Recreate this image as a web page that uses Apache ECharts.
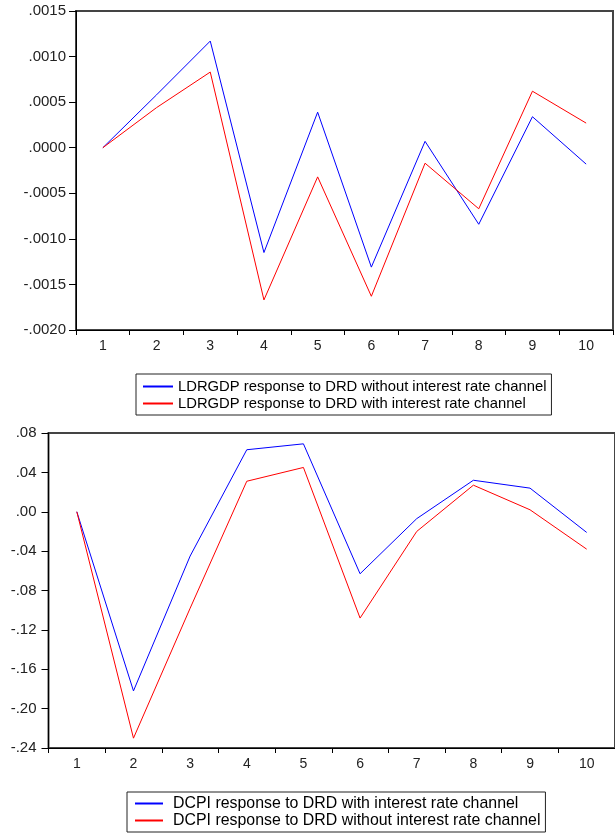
<!DOCTYPE html>
<html>
<head>
<meta charset="utf-8">
<script src="https://cdn.jsdelivr.net/npm/echarts@6/dist/echarts.min.js"></script>
<style>
html,body{margin:0;padding:0;background:#fff;}
#c{width:615px;height:836px;}
</style>
</head>
<body>
<div id="c"></div>
<script>
// Data
const periods = ['1','2','3','4','5','6','7','8','9','10'];
const gdpWithout = [0, 0.00058, 0.00117, -0.00115, 0.00039, -0.00131, 0.00007, -0.00084, 0.00034, -0.00018];
const gdpWith    = [0, 0.00044, 0.00083, -0.00167, -0.00032, -0.00163, -0.00017, -0.00067, 0.00062, 0.00027];
const cpiWith    = [0, -0.182, -0.045, 0.063, 0.069, -0.063, -0.007, 0.032, 0.024, -0.021];
const cpiWithout = [0, -0.230, -0.098, 0.031, 0.045, -0.108, -0.020, 0.027, 0.002, -0.038];
const gdpNames = ['LDRGDP response to DRD without interest rate channel', 'LDRGDP response to DRD with interest rate channel'];
const cpiNames = ['DCPI response to DRD with interest rate channel', 'DCPI response to DRD without interest rate channel'];
const BLUE = '#0000ff', RED = '#ff0000';

const font = 'Liberation Sans, Arial, sans-serif';
const fmt = d => v => v.toFixed(d).replace('0.', '.');

function xAxis(gi) {
  return {
    type: 'category', gridIndex: gi, data: periods, boundaryGap: true,
    axisLine: {onZero: false, lineStyle: {color: '#000', width: 1}},
    axisTick: {show: true, length: 5, lineStyle: {color: '#000'}},
    axisLabel: {color: '#222', fontSize: 14, fontFamily: font, margin: 9}
  };
}
function yAxis(gi, min, max, interval, d, margin) {
  return {
    type: 'value', gridIndex: gi, min, max, interval,
    splitLine: {show: false},
    axisLine: {show: true, onZero: false, lineStyle: {color: '#000', width: 1}},
    axisTick: {show: true, length: 7, lineStyle: {color: '#000'}},
    axisLabel: {color: '#222', fontSize: 15, fontFamily: font, margin, formatter: fmt(d)}
  };
}
function line(name, data, color, gi) {
  return {
    type: 'line', name, data, xAxisIndex: gi, yAxisIndex: gi,
    symbol: 'none', lineStyle: {color, width: 1}, itemStyle: {color}, animation: false
  };
}
function legend(names, colors, left, top, fs, pad, iw, tpad) {
  return {
    data: names.map((n, i) => ({name: n, icon: 'rect', itemStyle: {color: colors[i], borderWidth: 0, opacity: 1}})),
    orient: 'vertical', left, top,
    padding: pad, itemGap: 0, itemWidth: iw, itemHeight: 2,
    borderColor: '#222', borderWidth: 1,
    textStyle: {color: '#000', fontSize: fs, fontFamily: font, padding: [0, 0, 0, tpad], lineHeight: 17},
    selectedMode: false
  };
}

const chart = echarts.init(document.getElementById('c'), null, {renderer: 'canvas'});
chart.setOption({
  backgroundColor: '#fff',
  animation: false,
  grid: [
    {left: 76, top: 11, width: 537, height: 319, show: true, borderColor: '#444', borderWidth: 2, backgroundColor: 'transparent'},
    {left: 48.5, top: 433, width: 575, height: 315, show: true, borderColor: '#444', borderWidth: 2, backgroundColor: 'transparent'}
  ],
  xAxis: [xAxis(0), xAxis(1)],
  yAxis: [yAxis(0, -0.002, 0.0015, 0.0005, 4, 10), yAxis(1, -0.24, 0.08, 0.04, 2, 12)],
  legend: [
    legend(gdpNames, [BLUE, RED], 136, 374, 14.8, [4, 5, 3, 7], 30, 0),
    legend(cpiNames, [BLUE, RED], 127, 792, 15.9, [3, 5, 3, 8], 28, 5)
  ],
  series: [
    line(gdpNames[0], gdpWithout, BLUE, 0),
    line(gdpNames[1], gdpWith, RED, 0),
    line(cpiNames[0], cpiWith, BLUE, 1),
    line(cpiNames[1], cpiWithout, RED, 1)
  ]
});
</script>
</body>
</html>
